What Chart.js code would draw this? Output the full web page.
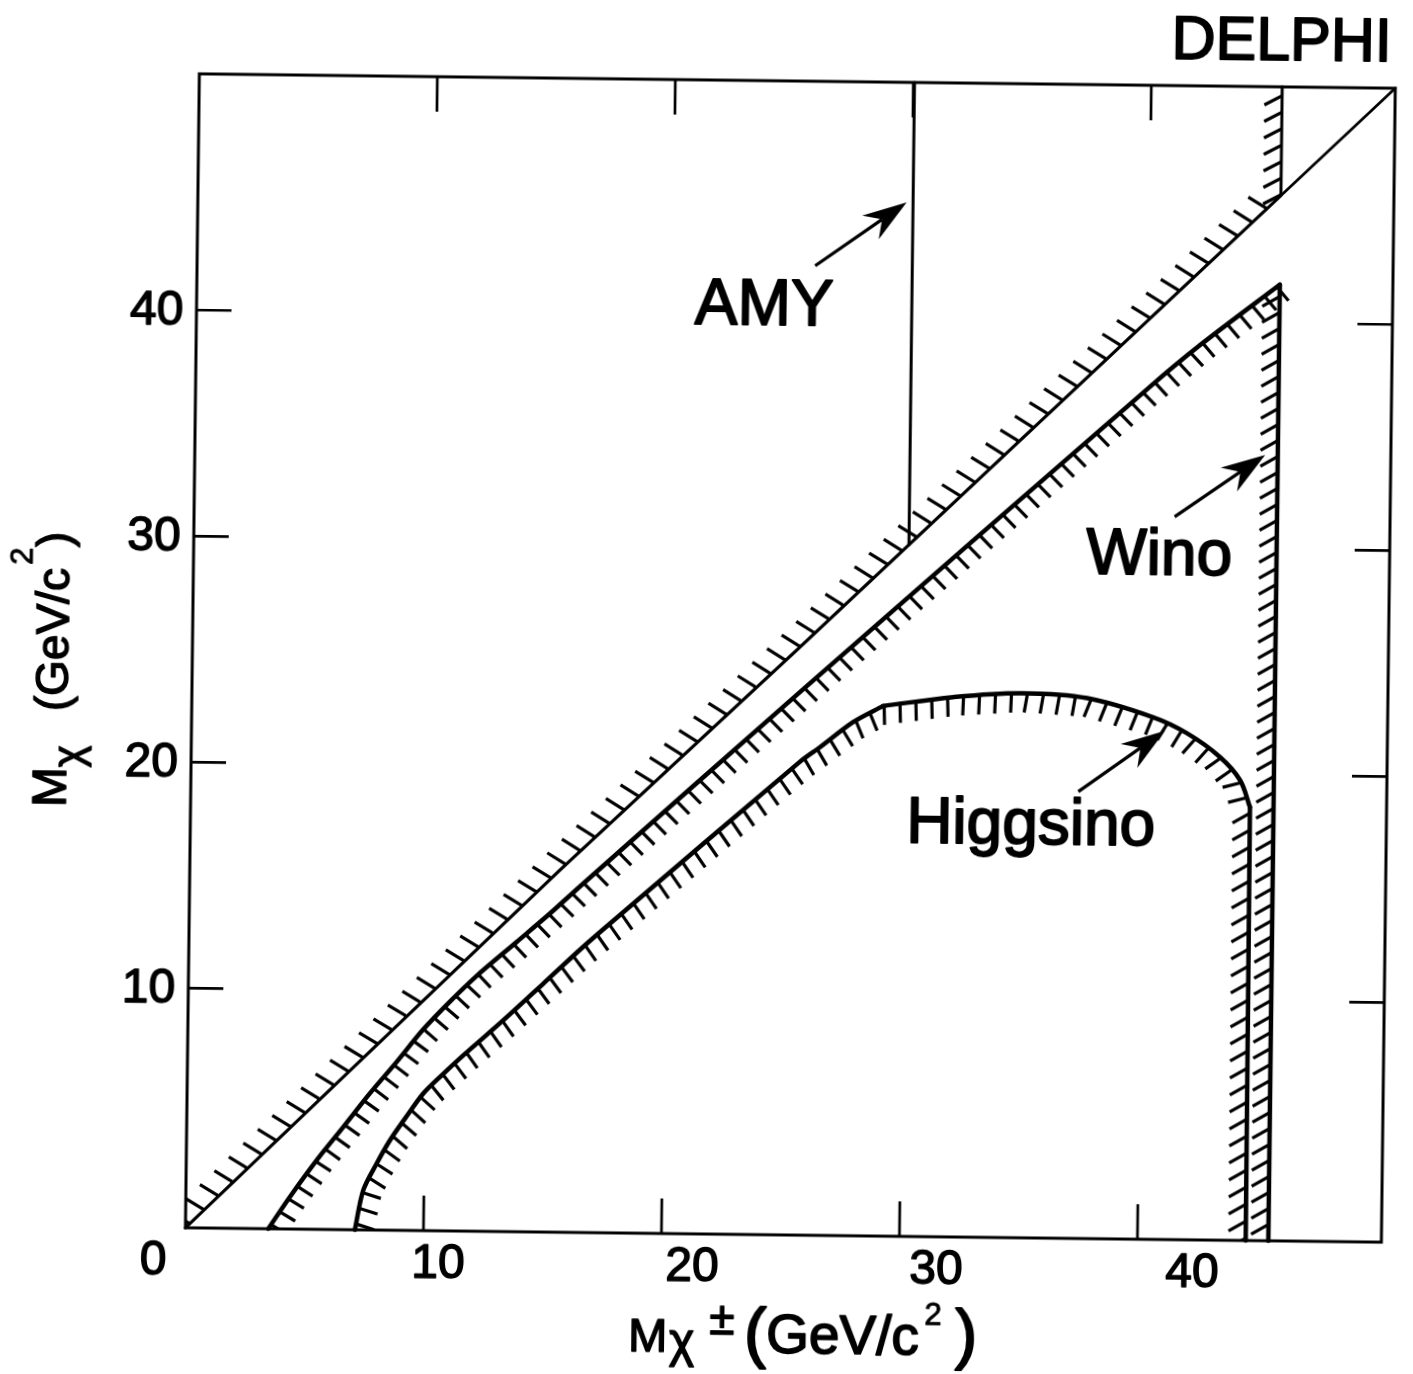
<!DOCTYPE html>
<html>
<head>
<meta charset="utf-8">
<title>DELPHI chargino / neutralino mass limits</title>
<script src="https://cdn.jsdelivr.net/npm/chart.js@4.4.1/dist/chart.umd.min.js"></script>
<style>
  html, body { margin: 0; padding: 0; background: #ffffff; overflow: hidden; }
  #wrap { position: absolute; left: 0; top: 0; width: 1413px; height: 1374px;
          transform: rotate(0.69deg); transform-origin: 706.5px 687px; }
  canvas { display: block; }
</style>
</head>
<body>
<div id="wrap"><canvas id="chart" width="1413" height="1374"></canvas></div>
<script>
// ---------------- data ----------------
// axis ranges (GeV/c^2)
const xRange = [0, 50.25];
const yRange = [-0.6, 50.45];

// tick values and labels
const xTickMarks = [10, 20, 30, 40];
const yTickMarks = [10, 20, 30, 40];
const xTickValues = [0, 10, 20, 30, 40];
const xTickLabels = ['0', '10', '20', '30', '40'];
const yTickValues = [10, 20, 30, 40];
const yTickLabels = ['10', '20', '30', '40'];

// kinematic line  M_chi = M_chi+-
const diagonalX = [0, 15.55, 25.53, 50.25];
const diagonalY = [-0.6, 15.42, 25.42, 50.45];

// hatched edge of the upper excluded region (diagonal, then vertical at the Z/2 limit)
const upperEdgeX = [0, 15.55, 25.53, 45.5, 45.5];
const upperEdgeY = [-0.6, 15.42, 25.42, 45.64, 50.45];

// AMY limit
const amyX = [30.05, 30.05];
const amyY = [50.45, 30.0];

// Wino contour
const winoX = [3.48, 4.37, 5.48, 6.58, 7.68, 8.79, 9.89, 11.0, 12.11, 13.77, 15.16, 16.54, 25.55, 40.1, 42.2, 45.5, 45.5];
const winoY = [-0.6, 0.82, 2.46, 3.94, 5.44, 6.85, 8.3, 9.55, 10.7, 12.22, 13.5, 14.84, 23.43, 37.12, 39.0, 41.7, -0.6];

// Higgsino contour
const higgsinoX = [7.12, 7.45, 8.0, 8.55, 9.17, 9.92, 10.62, 11.59, 13.25, 14.91, 16.57, 17.68, 25.58, 26.42, 27.79, 29.04, 31.98, 34.79, 37.61, 40.39, 41.82, 43.23, 44.08, 44.51, 44.55];
const higgsinoY = [-0.6, 1.15, 2.34, 3.38, 4.35, 5.46, 6.21, 7.18, 8.75, 10.39, 12.04, 13.08, 20.34, 21.0, 22.12, 22.85, 23.28, 23.49, 23.31, 22.5, 21.81, 20.77, 19.76, 18.57, -0.6];

// annotation texts and their anchor values (data units)
const labelTexts = ['AMY', 'Wino', 'Higgsino'];
const labelAtX = [23.85, 40.57, 35.31];
const labelAtY = [39.65, 28.8, 16.83];

// annotation arrows: tail -> tip (data units)
const arrowTailX = [25.97, 41.2, 37.29];
const arrowTailY = [42.29, 31.38, 19.17];
const arrowTipX = [29.78, 44.97, 40.9];
const arrowTipY = [45.14, 34.16, 21.91];

// ---------------- styles / layout ----------------
const FONT = '"Liberation Sans", Arial, Helvetica, sans-serif';
const INK = '#000000';
const xLabelNudge = [-32, 15, 31, 37, 55];   // px shift of each x label (as typeset in the original)
const hatchStyles = {
  upper:    { side: 'left',  spacing: 20,   length: 22, tilt: -15, vSpacing: 16.5, vLength: 20, vTilt: -28, offset: 6 },
  wino:     { side: 'right', spacing: 15.5, length: 18, tilt: -3,  vSpacing: 16,   vLength: 20, vTilt: -30, offset: 5 },
  higgsino: { side: 'right', spacing: 16,   length: 19, tilt: 6,   vSpacing: 17,   vLength: 20, vTilt: -30, offset: 6 }
};

const pts = (xs, ys) => xs.map((x, i) => ({ x: x, y: ys[i] }));
const lineSet = (label, xs, ys, w, tension) => ({
  label: label, data: pts(xs, ys), showLine: true, borderColor: INK, backgroundColor: INK,
  borderWidth: w, pointRadius: 0, pointHoverRadius: 0, fill: false, tension: tension || 0,
  borderJoinStyle: 'round', borderCapStyle: 'round', clip: 4
});

function toPixels(chart, xs, ys) {
  const sx = chart.scales.x, sy = chart.scales.y;
  return xs.map((x, i) => ({ x: sx.getPixelForValue(x), y: sy.getPixelForValue(ys[i]) }));
}

function hatchAlong(ctx, p, st) {
  const segs = [];
  let total = 0;
  for (let i = 0; i < p.length - 1; i++) {
    const dx = p[i + 1].x - p[i].x, dy = p[i + 1].y - p[i].y;
    const len = Math.hypot(dx, dy);
    if (len < 1e-6) continue;
    segs.push({ x0: p[i].x, y0: p[i].y, ux: dx / len, uy: dy / len, len: len, start: total });
    total += len;
  }
  ctx.beginPath();
  let s = st.offset;
  while (s < total) {
    let seg = segs[segs.length - 1];
    for (const g of segs) { if (s >= g.start && s < g.start + g.len) { seg = g; break; } }
    const t = s - seg.start;
    const px = seg.x0 + seg.ux * t, py = seg.y0 + seg.uy * t;
    let nx, ny;
    if (st.side === 'right') { nx = -seg.uy; ny = seg.ux; } else { nx = seg.uy; ny = -seg.ux; }
    const vertical = Math.abs(seg.ux) < 0.1;
    const a = (vertical ? st.vTilt : st.tilt) * Math.PI / 180;
    const hx = nx * Math.cos(a) - ny * Math.sin(a);
    const hy = nx * Math.sin(a) + ny * Math.cos(a);
    const L = vertical ? st.vLength : st.length;
    ctx.moveTo(px, py);
    ctx.lineTo(px + hx * L, py + hy * L);
    s += vertical ? st.vSpacing : st.spacing;
  }
  ctx.stroke();
}

function drawArrow(ctx, x0, y0, x1, y1) {
  const dx = x1 - x0, dy = y1 - y0, L = Math.hypot(dx, dy);
  const ux = dx / L, uy = dy / L, px = -uy, py = ux;
  const headLen = 44, half = 14.5;
  const bx = x1 - ux * headLen, by = y1 - uy * headLen;
  const nx = x1 - ux * headLen * 0.68, ny = y1 - uy * headLen * 0.68;
  ctx.beginPath();
  ctx.moveTo(x0, y0); ctx.lineTo(nx, ny);
  ctx.lineWidth = 3.2; ctx.stroke();
  ctx.beginPath();
  ctx.moveTo(x1, y1);
  ctx.lineTo(bx + px * half, by + py * half);
  ctx.lineTo(nx, ny);
  ctx.lineTo(bx - px * half, by - py * half);
  ctx.closePath();
  ctx.fill();
}

// text with a thin outline so it reaches the weight of the scanned lettering
function text(ctx, t, x, y, size, align) {
  ctx.font = size + 'px ' + FONT;
  ctx.textAlign = align || 'left';
  ctx.textBaseline = 'alphabetic';
  ctx.lineJoin = 'round';
  ctx.lineWidth = size * 0.03;
  ctx.fillText(t, x, y);
  ctx.strokeText(t, x, y);
}

const decor = {
  id: 'delphiDecor',
  beforeDatasetsDraw(chart) {
    const ctx = chart.ctx, ca = chart.chartArea;
    ctx.save();
    ctx.beginPath();
    ctx.rect(ca.left, ca.top, ca.right - ca.left, ca.bottom - ca.top);
    ctx.clip();
    ctx.strokeStyle = INK; ctx.lineWidth = 3.2; ctx.lineCap = 'butt';
    hatchAlong(ctx, toPixels(chart, upperEdgeX, upperEdgeY), hatchStyles.upper);
    hatchAlong(ctx, toPixels(chart, winoX, winoY), hatchStyles.wino);
    hatchAlong(ctx, toPixels(chart, higgsinoX, higgsinoY), hatchStyles.higgsino);
    ctx.restore();
  },
  afterDatasetsDraw(chart) {
    const ctx = chart.ctx, ca = chart.chartArea;
    const sx = chart.scales.x, sy = chart.scales.y;
    ctx.save();
    ctx.strokeStyle = INK; ctx.fillStyle = INK;

    // frame
    ctx.lineWidth = 3;
    ctx.strokeRect(ca.left, ca.top, ca.right - ca.left, ca.bottom - ca.top);

    // inward tick marks on all four sides
    const tl = 35;
    ctx.lineWidth = 2.7;
    ctx.beginPath();
    xTickMarks.forEach(v => {
      const x = sx.getPixelForValue(v);
      ctx.moveTo(x, ca.bottom); ctx.lineTo(x, ca.bottom - tl);
      ctx.moveTo(x, ca.top); ctx.lineTo(x, ca.top + tl);
    });
    yTickMarks.forEach(v => {
      const y = sy.getPixelForValue(v);
      ctx.moveTo(ca.left, y); ctx.lineTo(ca.left + tl, y);
      ctx.moveTo(ca.right, y); ctx.lineTo(ca.right - tl, y);
    });
    ctx.stroke();

    // tick labels
    xTickValues.forEach((v, i) => {
      text(ctx, xTickLabels[i], sx.getPixelForValue(v) + xLabelNudge[i], ca.bottom + 47, 48, 'center');
    });
    yTickValues.forEach((v, i) => {
      text(ctx, yTickLabels[i], ca.left - 13, sy.getPixelForValue(v) + 15, 48, 'right');
    });

    // x-axis title  M_chi± (GeV/c^2 )
    const ax = ca.left + 444, ay = ca.bottom + 118;
    text(ctx, 'M', ax, ay, 47);
    text(ctx, 'χ', ax + 41, ay + 5, 48);
    text(ctx, '±', ax + 81, ay - 18, 46);
    text(ctx, '(', ax + 116, ay + 2, 66);
    text(ctx, 'GeV/c', ax + 138, ay, 55);
    text(ctx, '2', ax + 296, ay - 30, 31);
    text(ctx, ')', ax + 327, ay + 1, 66);

    // y-axis title  M_chi (GeV/c^2), rotated
    const bx = ca.left - 125, by = ca.bottom - 419;
    const yPieces = [
      ['M', 0, 0, 48], ['χ', 40, 16, 42], ['(', 96, 1, 46],
      ['GeV/c', 111.3, 1, 46], ['2', 242, -36, 31], [')', 260, 1, 46]
    ];
    yPieces.forEach(pc => {
      ctx.save();
      ctx.translate(bx + pc[2], by - pc[1]);
      ctx.rotate(-Math.PI / 2);
      text(ctx, pc[0], 0, 0, pc[3]);
      ctx.restore();
    });

    // annotations and arrows
    labelTexts.forEach((t, i) => {
      text(ctx, t, sx.getPixelForValue(labelAtX[i]), sy.getPixelForValue(labelAtY[i]), 64, 'center');
    });
    arrowTipX.forEach((v, i) => {
      drawArrow(ctx,
        sx.getPixelForValue(arrowTailX[i]), sy.getPixelForValue(arrowTailY[i]),
        sx.getPixelForValue(arrowTipX[i]), sy.getPixelForValue(arrowTipY[i]));
    });

    // experiment tag
    text(ctx, 'DELPHI', ca.right - 4, ca.top - 27, 61, 'right');
    ctx.restore();
  }
};

// smooth stretches are drawn with a little spline tension; corners stay sharp
const winoCurveX = winoX.slice(0, 16), winoCurveY = winoY.slice(0, 16);
const winoWallX = winoX.slice(15), winoWallY = winoY.slice(15);
const higgsLowX = higgsinoX.slice(0, 16), higgsLowY = higgsinoY.slice(0, 16);
const higgsArcX = higgsinoX.slice(15, 24), higgsArcY = higgsinoY.slice(15, 24);
const higgsWallX = higgsinoX.slice(23), higgsWallY = higgsinoY.slice(23);

new Chart(document.getElementById('chart').getContext('2d'), {
  type: 'scatter',
  data: {
    datasets: [
      lineSet('M\u03c7 = M\u03c7\u00b1', diagonalX, diagonalY, 2.7),
      lineSet('excluded edge', upperEdgeX, upperEdgeY, 3),
      lineSet('AMY', amyX, amyY, 3),
      lineSet('Wino', winoCurveX, winoCurveY, 4.5, 0.3),
      lineSet('Wino limit', winoWallX, winoWallY, 4.5),
      lineSet('Higgsino', higgsLowX, higgsLowY, 4.5, 0.3),
      lineSet('Higgsino arc', higgsArcX, higgsArcY, 4.5, 0.35),
      lineSet('Higgsino limit', higgsWallX, higgsWallY, 4.5)
    ]
  },
  options: {
    responsive: false,
    animation: false,
    devicePixelRatio: 1,
    events: [],
    layout: { padding: { left: 192, right: 25, top: 80, bottom: 140 } },
    scales: {
      x: { type: 'linear', min: xRange[0], max: xRange[1], display: false },
      y: { type: 'linear', min: yRange[0], max: yRange[1], display: false }
    },
    plugins: { legend: { display: false }, tooltip: { enabled: false } }
  },
  plugins: [decor]
});
</script>
</body>
</html>
